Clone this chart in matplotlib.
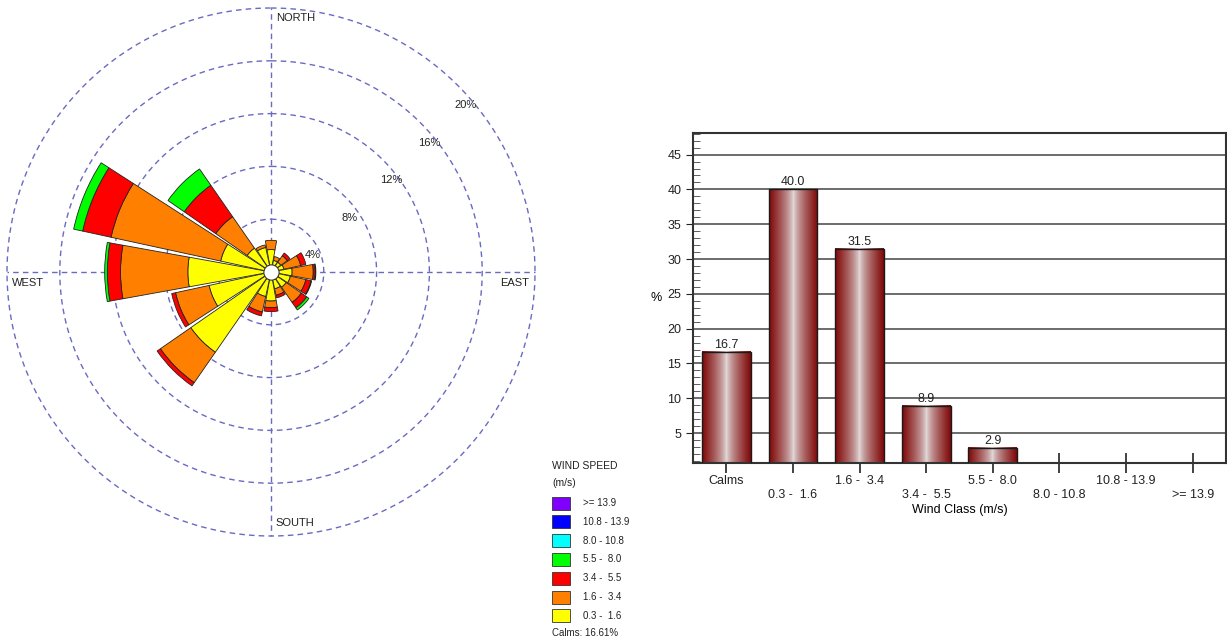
import numpy as np
import matplotlib
matplotlib.use('Agg')
import matplotlib.pyplot as plt
from matplotlib.patches import Rectangle

plt.rcParams['font.family'] = ['Liberation Sans', 'DejaVu Sans']

# wind rose: frequency (%) per direction, one list per speed class
directions = ['N', 'NNE', 'NE', 'ENE', 'E', 'ESE', 'SE', 'SSE',
              'S', 'SSW', 'SW', 'WSW', 'W', 'WNW', 'NW', 'NNW']
spd_03_16 = [1.7, 0.9, 0.9, 1.0, 1.6, 1.5, 1.4, 1.3, 2.2, 1.9, 7.4, 4.8, 6.3, 3.9, 2.2, 1.9]
spd_16_34 = [0.7, 0.3, 0.6, 1.3, 1.6, 1.2, 1.4, 0.5, 0.5, 1.2, 2.8, 2.6, 5.1, 8.5, 2.9, 0.2]
spd_34_55 = [0, 0, 0.25, 0.4, 0.15, 0.4, 0.5, 0.2, 0.3, 0.3, 0.3, 0.3, 1.0, 2.2, 2.9, 0]
spd_55_80 = [0, 0, 0, 0, 0.05, 0.05, 0.2, 0, 0, 0, 0, 0, 0.2, 0.7, 1.5, 0]
spd_80_108 = [0] * 16
spd_108_139 = [0] * 16
spd_139 = [0] * 16

legend_labels = ['>= 13.9', '10.8 - 13.9', '8.0 - 10.8', '5.5 -  8.0',
                 '3.4 -  5.5', '1.6 -  3.4', '0.3 -  1.6']
legend_colors = ['#8000ff', '#0000ff', '#00ffff', '#00ff00',
                 '#ff0000', '#ff8000', '#ffff00']
calms_pct = 16.61
rings = [4, 8, 12, 16, 20]

# wind class frequency distribution
wind_classes = ['Calms', '0.3 -  1.6', '1.6 -  3.4', '3.4 -  5.5',
                '5.5 -  8.0', '8.0 - 10.8', '10.8 - 13.9', '>= 13.9']
class_freq = [16.7, 40.0, 31.5, 8.9, 2.9, 0, 0, 0]

W, H = 1227, 643
fig = plt.figure(figsize=(W / 100, H / 100), dpi=100)

# ---- wind rose ----
ax = fig.add_axes([7 / W, 1 - 536 / H, 528 / W, 528 / H], projection='polar')
ax.set_theta_zero_location('N')
ax.set_theta_direction(-1)
ax.set_ylim(0, 20)
ax.grid(False)
ax.set_xticks([])
ax.set_yticks([])
ax.spines['polar'].set_visible(False)

grid_c = '#6a6ac0'
ring_t = np.linspace(0, 2 * np.pi, 721)
for r in rings:
    ax.plot(ring_t, np.full_like(ring_t, r), color=grid_c, lw=1,
            ls=(0, (4, 3)), clip_on=False, zorder=1)
for a in [0, np.pi / 2, np.pi, 3 * np.pi / 2]:
    ax.plot([a, a], [0, 20], color=grid_c, lw=1, ls=(0, (4, 3)),
            clip_on=False, zorder=1)

theta = np.deg2rad(np.arange(16) * 22.5)
width = np.deg2rad(20.5)
stack = [spd_03_16, spd_16_34, spd_34_55, spd_55_80,
         spd_80_108, spd_108_139, spd_139]
bottom = np.zeros(16)
for vals, col in zip(stack, legend_colors[::-1]):
    v = np.array(vals, dtype=float)
    m = v > 0
    if m.any():
        ax.bar(theta[m], v[m], width=width, bottom=bottom[m], color=col,
               edgecolor='#222222', linewidth=0.6, zorder=3)
    bottom += v
ax.plot([0], [0], 'o', ms=11, mfc='white', mec='#333333', mew=0.8,
        zorder=5, clip_on=False)

# ---- wind class bar chart ----
bx = fig.add_axes([693 / W, 1 - 463 / H, 533 / W, 330 / H])
x = np.arange(len(wind_classes))
bw = 0.73
t = np.linspace(0, 1, 200)
f = np.abs(2 * t - 1) ** 0.7
dark = np.array([0.50, 0.03, 0.03])
light = np.array([0.90, 0.88, 0.88])
grad = (light * (1 - f)[:, None] + dark * f[:, None])[None, :, :]
for xi, v in zip(x, class_freq):
    if v > 0:
        bx.imshow(grad, extent=(xi - bw / 2, xi + bw / 2, 0, v), aspect='auto',
                  interpolation='bilinear', zorder=2)
        bx.bar(xi, v, width=bw, fill=False, edgecolor='#1a1a1a', lw=1, zorder=3)
        bx.text(xi, v + 0.15, f'{v:.1f}', ha='center', va='bottom',
                fontsize=9, color='#222222', zorder=4)

bx.set_xlim(-0.5, 7.5)
bx.set_ylim(0.7, 48.1)
bx.set_yticks(np.arange(5, 50, 5))
bx.set_yticks(np.arange(1, 49), minor=True)
bx.yaxis.grid(True, color='#444444', lw=1.1)
bx.set_axisbelow(True)
bx.tick_params(axis='y', which='major', direction='out', length=5,
               labelsize=9, colors='#222222')
bx.tick_params(axis='y', which='minor', direction='in', length=5, color='#444444')
bx.set_xticks(x)
bx.set_xticklabels([lbl if i % 2 == 0 else '\n' + lbl
                    for i, lbl in enumerate(wind_classes)])
bx.tick_params(axis='x', direction='inout', length=14, width=1.2, pad=2,
               labelsize=9, colors='#222222')
for s in bx.spines.values():
    s.set_color('#333333')
    s.set_linewidth(1.5)
bx.set_xlabel('Wind Class (m/s)', fontsize=9, labelpad=2)
bx.set_ylabel('%', rotation=0, fontsize=9, va='center', labelpad=8)

# ---- labels and legend in figure pixels ----
ov = fig.add_axes([0, 0, 1, 1], zorder=10)
ov.set_xlim(0, W)
ov.set_ylim(H, 0)
ov.axis('off')

txt_c = '#222222'
ov.text(276, 18, 'NORTH', fontsize=8, va='center', color=txt_c)
ov.text(275, 523, 'SOUTH', fontsize=8, va='center', color=txt_c)
ov.text(12, 283, 'WEST', fontsize=8, va='center', color=txt_c)
ov.text(500, 283, 'EAST', fontsize=8, va='center', color=txt_c)
for r, (px, py) in zip(rings, [(313, 255), (350, 218), (391, 180), (429, 143), (466, 105)]):
    ov.text(px, py, f'{r}%', fontsize=8, ha='center', va='center', color=txt_c)

ov.text(552, 466, 'WIND SPEED', fontsize=7.5, va='center', color=txt_c)
ov.text(552, 483, '(m/s)', fontsize=7.5, va='center', color=txt_c)
for i, (lbl, col) in enumerate(zip(legend_labels, legend_colors)):
    yc = 503 + i * 18.8
    ov.add_patch(Rectangle((552, yc - 6.5), 18, 13, facecolor=col,
                           edgecolor='#333333', lw=0.6))
    ov.text(583, yc, lbl, fontsize=7, va='center', color=txt_c)
ov.text(552, 633, f'Calms: {calms_pct:.2f}%', fontsize=7, va='center', color=txt_c)

fig.savefig('out.png', dpi=100)
